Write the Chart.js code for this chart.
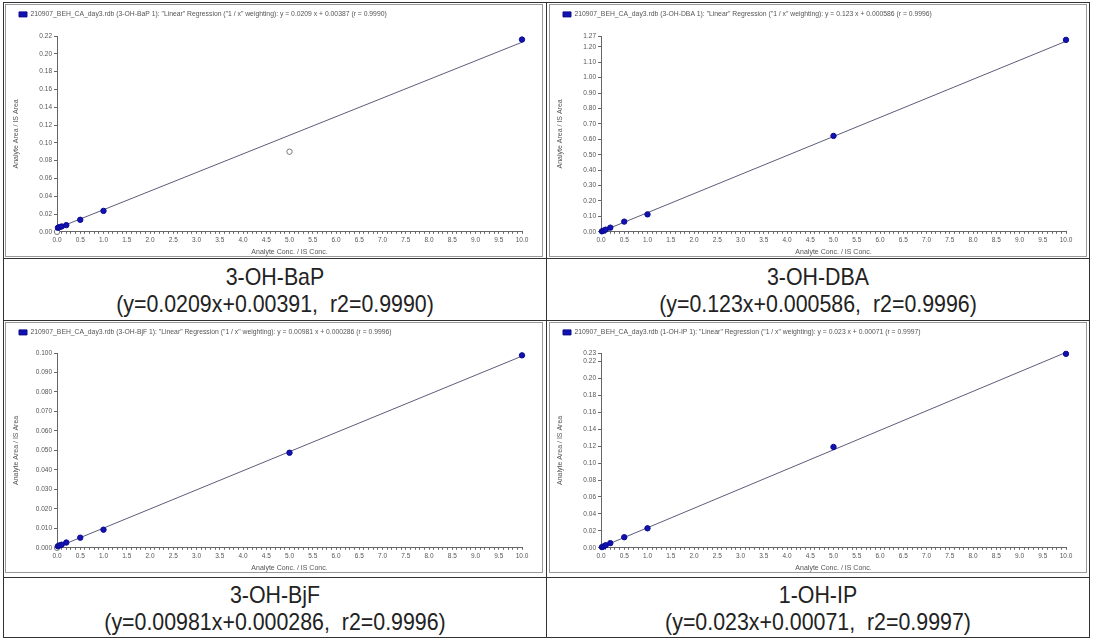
<!DOCTYPE html>
<html>
<head>
<meta charset="utf-8">
<script src="https://cdn.jsdelivr.net/npm/chart.js@4"></script>
<style>
  body { margin: 0; background: #fff; width: 1093px; height: 640px; overflow: hidden; position: relative; font-family: "Liberation Sans", Arial, sans-serif; }
  .cell { position: absolute; box-sizing: border-box; border: 1px solid #333; }
  .frame { position: absolute; box-sizing: border-box; border: 1px solid #999; background: #fff; }
  .frame canvas { position: absolute; left: 0; top: 0; }
  .cap { position: absolute; text-align: center; color: #222; font-size: 24px; line-height: 27px; white-space: pre; }
  .cap div { transform: scaleX(0.89); }
</style>
</head>
<body>
<div class="cell" style="left:3px;top:2px;width:544px;height:257px;"></div>
<div class="cell" style="left:546px;top:2px;width:544px;height:257px;"></div>
<div class="cell" style="left:3px;top:258px;width:544px;height:63px;"></div>
<div class="cell" style="left:546px;top:258px;width:544px;height:63px;"></div>
<div class="cell" style="left:3px;top:320px;width:544px;height:258px;"></div>
<div class="cell" style="left:546px;top:320px;width:544px;height:258px;"></div>
<div class="cell" style="left:3px;top:577px;width:544px;height:61px;"></div>
<div class="cell" style="left:546px;top:577px;width:544px;height:61px;"></div>

<div class="frame" style="left:5px;top:4px;width:538px;height:253px;"><canvas id="c1" width="536" height="251"></canvas></div>
<div class="frame" style="left:549px;top:4px;width:538px;height:253px;"><canvas id="c2" width="536" height="251"></canvas></div>
<div class="frame" style="left:5px;top:322px;width:538px;height:251px;"><canvas id="c3" width="536" height="249"></canvas></div>
<div class="frame" style="left:549px;top:322px;width:538px;height:251px;"><canvas id="c4" width="536" height="249"></canvas></div>

<div class="cap" style="left:3px;top:263px;width:544px;"><div>3-OH-BaP</div><div>(y=0.0209x+0.00391,  r2=0.9990)</div></div>
<div class="cap" style="left:546px;top:263px;width:544px;"><div>3-OH-DBA</div><div>(y=0.123x+0.000586,  r2=0.9996)</div></div>
<div class="cap" style="left:3px;top:581px;width:544px;"><div>3-OH-BjF</div><div>(y=0.00981x+0.000286,  r2=0.9996)</div></div>
<div class="cap" style="left:546px;top:581px;width:544px;"><div>1-OH-IP</div><div>(y=0.023x+0.00071,  r2=0.9997)</div></div>

<script>
// 标准曲线数据（浓度比 vs 面积比）
const conc = [0.02, 0.05, 0.1, 0.2, 0.5, 1, 5, 10];

// 3-OH-BaP
const bapConc = [0.02, 0.05, 0.1, 0.2, 0.5, 1, 10];
const bapArea = [0.0045, 0.0052, 0.0060, 0.0075, 0.0135, 0.0235, 0.216];
const bapExclConc = [0, 5];
const bapExclArea = [0.0, 0.090];
const bapLineX = [0, 10];
const bapLineY = [0.0039, 0.213];
const bapYTicks = [0, 0.02, 0.04, 0.06, 0.08, 0.10, 0.12, 0.14, 0.16, 0.18, 0.20, 0.22];

// 3-OH-DBA
const dbaArea = [0.003, 0.007, 0.014, 0.027, 0.066, 0.113, 0.622, 1.245];
const dbaLineX = [0, 10];
const dbaLineY = [0.0006, 1.236];
const dbaYTicks = [0, 0.1, 0.2, 0.3, 0.4, 0.5, 0.6, 0.7, 0.8, 0.9, 1.0, 1.1, 1.2, 1.27];

// 3-OH-BjF
const bjfArea = [0.0008, 0.0012, 0.0016, 0.0027, 0.0052, 0.0093, 0.0488, 0.0988];
const bjfExclConc = [0];
const bjfExclArea = [0.0];
const bjfLineX = [0, 10];
const bjfLineY = [0.0003, 0.0984];
const bjfYTicks = [0, 0.01, 0.02, 0.03, 0.04, 0.05, 0.06, 0.07, 0.08, 0.09, 0.10];

// 1-OH-IP
const ipArea = [0.0008, 0.0015, 0.003, 0.0055, 0.0125, 0.023, 0.119, 0.229];
const ipLineX = [0, 10];
const ipLineY = [0.0007, 0.2307];
const ipYTicks = [0, 0.02, 0.04, 0.06, 0.08, 0.10, 0.12, 0.14, 0.16, 0.18, 0.20, 0.22, 0.23];

const xLabels = ['0.0', '0.5', '1.0', '1.5', '2.0', '2.5', '3.0', '3.5', '4.0', '4.5', '5.0',
  '5.5', '6.0', '6.5', '7.0', '7.5', '8.0', '8.5', '9.0', '9.5', '10.0'];

const headers = [
  '210907_BEH_CA_day3.rdb (3-OH-BaP 1): "Linear" Regression ("1 / x" weighting): y = 0.0209 x + 0.00387 (r = 0.9990)',
  '210907_BEH_CA_day3.rdb (3-OH-DBA 1): "Linear" Regression ("1 / x" weighting): y = 0.123 x + 0.000586 (r = 0.9996)',
  '210907_BEH_CA_day3.rdb (3-OH-BjF 1): "Linear" Regression ("1 / x" weighting): y = 0.00981 x + 0.000286 (r = 0.9996)',
  '210907_BEH_CA_day3.rdb (1-OH-IP 1): "Linear" Regression ("1 / x" weighting): y = 0.023 x + 0.00071 (r = 0.9997)'
];

// 组合 x/y 数组
function pts(xs, ys) {
  return xs.map((x, i) => ({ x: x, y: ys[i] }));
}

const axisFont = { family: 'Arial, "Liberation Sans", sans-serif', size: 6.5 };
const textColor = '#555';

function makeChart(id, header, points, excluded, line, yTicks, yDigits, yMax, gap) {
  const ctx = document.getElementById(id).getContext('2d');
  // 小刻度：每 0.1 一个
  const minorX = Array.from({ length: 101 }, (_, i) => i / 10);
  new Chart(ctx, {
    type: 'scatter',
    data: {
      datasets: [
        {
          label: header,
          data: points,
          backgroundColor: '#1212b0',
          borderColor: '#0a0a90',
          pointRadius: 2.7,
          borderWidth: 1,
          clip: false,
          order: 0,
        },
        {
          label: 'excluded',
          data: excluded,
          backgroundColor: '#fff',
          borderColor: '#777',
          pointRadius: 2.7,
          borderWidth: 1,
          clip: false,
          order: 1,
        },
        {
          label: 'regression',
          data: line,
          type: 'line',
          showLine: true,
          borderColor: '#5c5c7a',
          borderWidth: 1,
          pointRadius: 0,
          fill: false,
          clip: false,
          order: 2,
        }
      ],
    },
    options: {
      responsive: false,
      animation: false,
      layout: { padding: { left: 6, right: 20, top: -1, bottom: 0 } },
      plugins: {
        legend: {
          display: true,
          align: 'start',
          labels: {
            filter: item => item.datasetIndex === 0,
            boxWidth: 8,
            boxHeight: 5,
            padding: 7,
            color: '#555',
            font: { family: 'Arial, "Liberation Sans", sans-serif', size: 6.8 },
          },
        },
        // 图例与绘图区之间的空白
        subtitle: {
          display: true,
          text: '',
          position: 'top',
          weight: 500,
          font: { size: 1 },
          padding: { top: 0, bottom: gap },
        },
        tooltip: { enabled: false },
      },
      scales: {
        x: {
          type: 'linear',
          min: 0,
          max: 10,
          afterBuildTicks: s => { s.ticks = minorX.map(v => ({ value: v })); },
          ticks: {
            autoSkip: false,
            maxRotation: 0,
            padding: 3,
            color: textColor,
            font: axisFont,
            callback: (v) => {
              const k = Math.round(v * 10);
              return k % 5 === 0 ? xLabels[k / 5] : '';
            },
          },
          grid: { drawOnChartArea: false, tickLength: 2, color: '#666' },
          border: { color: '#666' },
          title: { display: true, text: 'Analyte Conc. / IS Conc.', color: textColor, font: { family: axisFont.family, size: 7 }, padding: 0 },
        },
        y: {
          type: 'linear',
          min: 0,
          max: yMax,
          afterBuildTicks: s => { s.ticks = yTicks.map(v => ({ value: v })); },
          afterFit: s => { s.width = 45; },
          ticks: {
            autoSkip: false,
            padding: 2,
            color: textColor,
            font: axisFont,
            callback: v => v.toFixed(yDigits),
          },
          grid: { drawOnChartArea: false, tickLength: 3, color: '#666' },
          border: { color: '#666' },
          title: { display: true, text: 'Analyte Area / IS Area', color: textColor, font: { family: axisFont.family, size: 7 }, padding: 0 },
        },
      },
    },
  });
}

makeChart('c1', headers[0], pts(bapConc, bapArea), pts(bapExclConc, bapExclArea), pts(bapLineX, bapLineY), bapYTicks, 2, 0.22, 7);
makeChart('c2', headers[1], pts(conc, dbaArea), [], pts(dbaLineX, dbaLineY), dbaYTicks, 2, 1.27, 7);
makeChart('c3', headers[2], pts(conc, bjfArea), pts(bjfExclConc, bjfExclArea), pts(bjfLineX, bjfLineY), bjfYTicks, 3, 0.10, 6);
makeChart('c4', headers[3], pts(conc, ipArea), [], pts(ipLineX, ipLineY), ipYTicks, 2, 0.23, 6);
</script>
</body>
</html>
